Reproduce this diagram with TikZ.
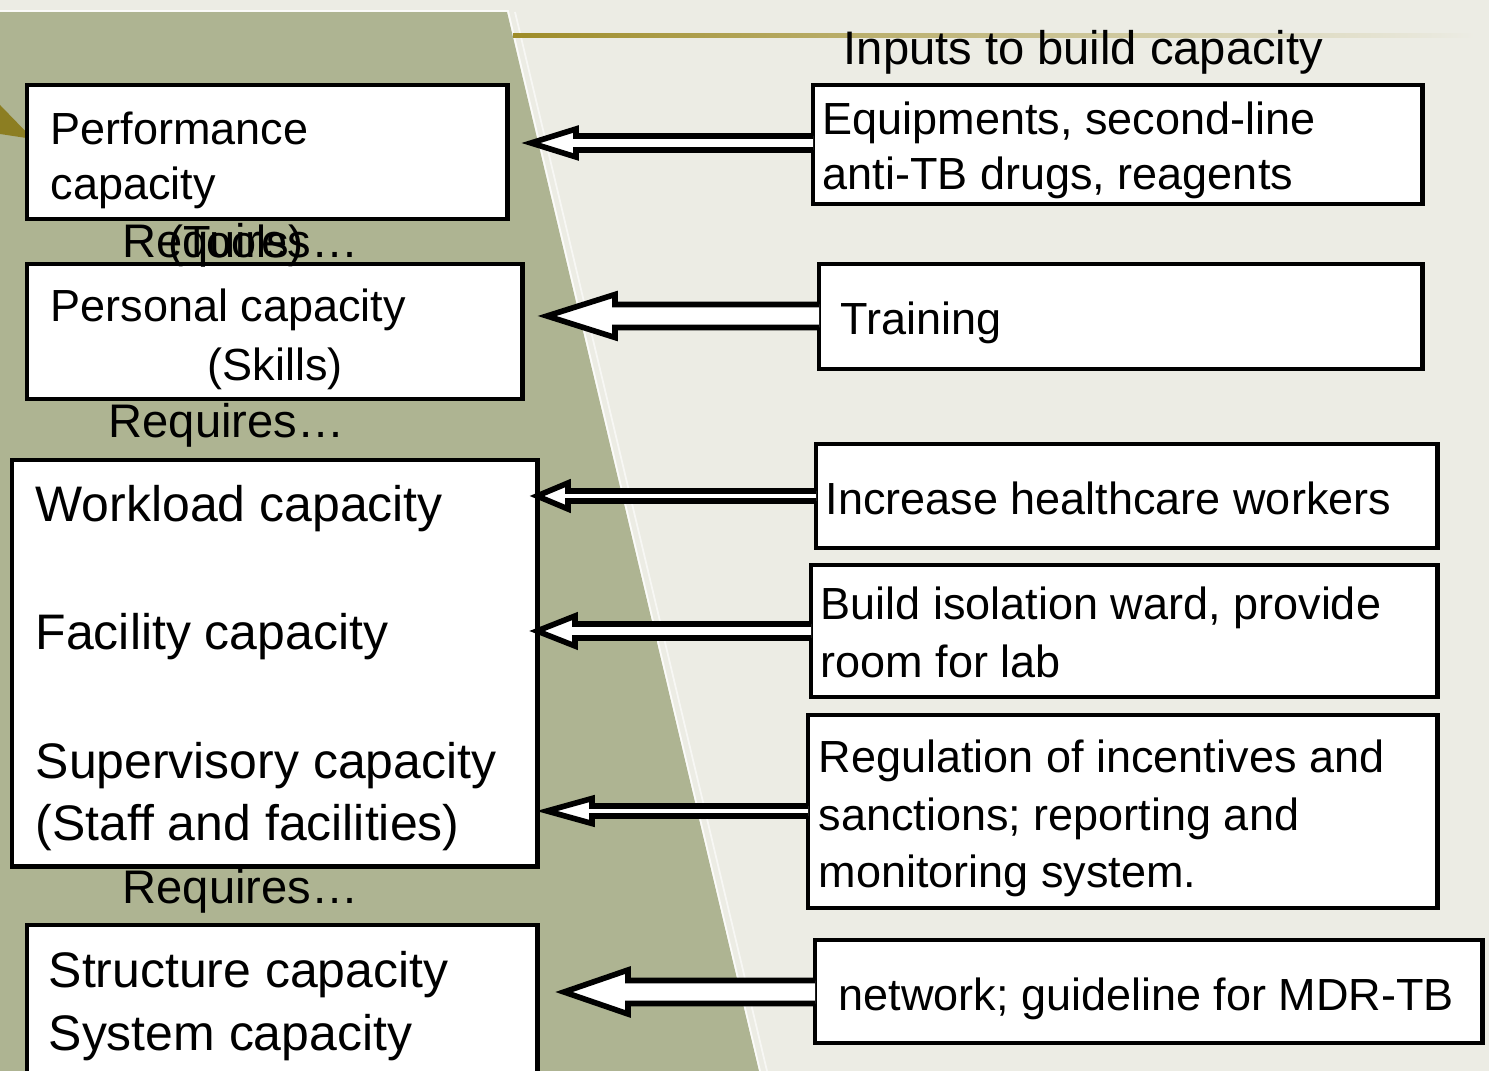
\documentclass[tikz,border=0pt]{standalone}
\usepackage{fontspec}
\setmainfont{Liberation Sans}
\usepackage{tikz}
\usetikzlibrary{calc}
\usetikzlibrary{positioning}
\definecolor{paper}{RGB}{236,236,228}
\definecolor{moss}{RGB}{174,180,146}
\definecolor{mgold}{RGB}{158,140,40}
\definecolor{tipgold}{RGB}{140,126,34}
\tikzset{capbox/.style = {draw, fill=white, line width=1.3pt, inner sep=0, outer sep=0, anchor=north west}}
\tikzset{txt/.style = {inner sep=0, anchor=base west, font=\fontsize{12.8}{15}\selectfont}}
\tikzset{bigtxt/.style = {txt, font=\fontsize{14.2}{17}\selectfont}}
\tikzset{reqtxt/.style = {txt, font=\fontsize{13.4}{16}\selectfont}}
\tikzset{fat/.style = {draw, fill=white, line width=1.6pt, line join=miter}}
% hollow arrow from the west side of #1 to the coordinate #2
\newcommand{\feed}[5]{%
  \draw [fat] ($(#2 -| #1.west)+(0,#3)$) -- ($(#2)+(#5,#3)$) -- ($(#2)+(#5,#4)$) -- (#2)
    -- ($(#2)+(#5,-#4)$) -- ($(#2)+(#5,-#3)$) -- ($(#2 -| #1.west)+(0,-#3)$);}

\begin{document}
\begin{tikzpicture}[x=0.01cm, y=-0.01cm]
    \useasboundingbox (0, 0) rectangle (1489, 1071);

    % slide background
    \fill [paper] (0, 0) rectangle (1489, 1071);
    \fill [moss] (0, 12) -- (507, 12) -- (759, 1071) -- (0, 1071) -- cycle;
    \draw [white, opacity=0.8, line width=0.5pt] (0, 11) -- (508, 11) -- (760, 1071);
    \draw [white, opacity=0.6, line width=0.5pt] (515, 12) -- (767, 1071);
    \shade [left color=mgold, right color=paper] (513, 34) rectangle (1475, 38);
    \fill [tipgold] (0, 105) -- (33, 139) -- (0, 134) -- cycle;

    % capacities
    \node [capbox, minimum width=4.80cm, minimum height=1.34cm] (perf) at (27, 85) {};
    \node [capbox, minimum width=4.95cm, minimum height=1.35cm] (pers) at (27, 264) {};
    \node [capbox, minimum width=5.25cm, minimum height=4.06cm] (work) at (12, 460) {};
    \node [capbox, minimum width=5.10cm, minimum height=1.60cm] (struct) at (27, 925) {};

    \node [txt] (perf1) at (50, 145) {Performance};
    \node [txt] (perf2) at (50, 200) {capacity};
    \node [reqtxt] (req1) at (122, 258) {Requires…};
    \node [txt] (tools) at (168, 258) {(Tools)};
    \node [txt] (pers1) at (50, 322) {Personal capacity};
    \node [txt] (pers2) at (207, 381) {(Skills)};
    \node [reqtxt] (req2) at (108, 438) {Requires…};
    \node [bigtxt] (work1) at (35, 522) {Workload capacity};
    \node [bigtxt] (work2) at (35, 650) {Facility capacity};
    \node [bigtxt] (work3) at (35, 778) {Supervisory capacity};
    \node [bigtxt] (work4) at (35, 840) {(Staff and facilities)};
    \node [reqtxt] (req3) at (122, 903) {Requires…};
    \node [bigtxt] (struct1) at (48, 987) {Structure capacity};
    \node [bigtxt] (struct2) at (48, 1050) {System capacity};

    % inputs
    \node [reqtxt] (title) at (843, 65) {Inputs to build capacity};

    \node [capbox, minimum width=6.09cm, minimum height=1.19cm] (equip) at (813, 85) {};
    \node [capbox, minimum width=6.03cm, minimum height=1.05cm] (train) at (819, 264) {};
    \node [capbox, minimum width=6.21cm, minimum height=1.04cm] (staff) at (816, 444) {};
    \node [capbox, minimum width=6.26cm, minimum height=1.32cm] (ward) at (811, 565) {};
    \node [capbox, minimum width=6.29cm, minimum height=1.93cm] (rule) at (808, 715) {};
    \node [capbox, minimum width=6.67cm, minimum height=1.03cm] (net) at (815, 940) {};

    \node [txt] (equip1) at (822, 135) {Equipments, second-line};
    \node [txt] (equip2) at (822, 190) {anti-TB drugs, reagents};
    \node [txt] (train1) at (840, 335) {Training};
    \node [txt] (staff1) at (825, 515) {Increase healthcare workers};
    \node [txt] (ward1) at (820, 620) {Build isolation ward, provide};
    \node [txt] (ward2) at (820, 678) {room for lab};
    \node [txt] (rule1) at (818, 772) {Regulation of incentives and};
    \node [txt] (rule2) at (818, 830) {sanctions; reporting and};
    \node [txt] (rule3) at (818, 887) {monitoring system.};
    \node [txt] (net1) at (838, 1010) {network; guideline for MDR-TB};

    % arrows
    \coordinate (t1) at (531, 143);
    \coordinate (t2) at (547, 316);
    \coordinate (t3) at (537, 496);
    \coordinate (t4) at (537, 631);
    \coordinate (t5) at (547, 811);
    \coordinate (t6) at (564, 992);

    \feed{equip}{t1}{7}{14}{45}
    \feed{train}{t2}{11.5}{21.5}{68}
    \feed{staff}{t3}{5}{13}{31}
    \feed{ward}{t4}{7}{15}{38}
    \feed{rule}{t5}{5}{12.5}{45}
    \feed{net}{t6}{11.5}{22}{64}
  \end{tikzpicture}
\end{document}
